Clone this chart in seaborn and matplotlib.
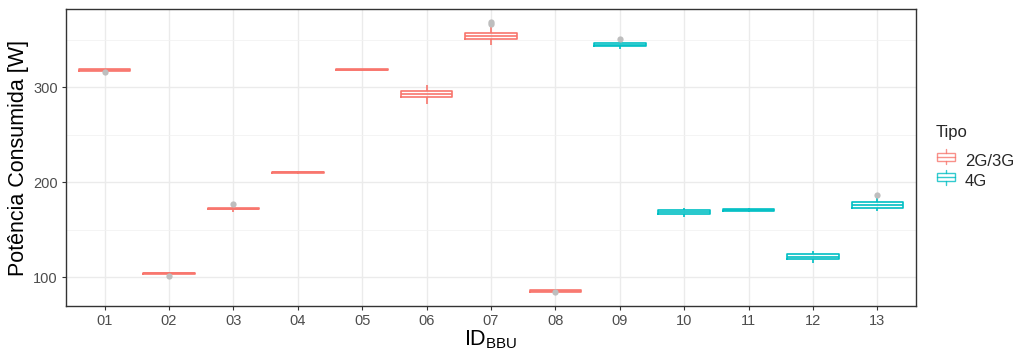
import pandas as pd
import seaborn as sb
import matplotlib.pyplot as plt
from matplotlib.legend_handler import HandlerBase
from matplotlib.patches import Rectangle
from matplotlib.lines import Line2D

# ##############################################################################
# data (box stats per BBU)
bbu_ids = ['01', '02', '03', '04', '05', '06', '07', '08', '09', '10', '11', '12', '13']
tipos = ['2G/3G'] * 8 + ['4G'] * 5

box_lo  = [317.0, 103.2, 168.6, 209.0, 317.6, 282.8, 345.0, 84.6, 340.0, 163.5, 168.1, 114.7, 169.2]
box_q1  = [317.6, 103.6, 171.2, 209.8, 318.0, 289.5, 350.9, 84.7, 343.5, 166.7, 169.9, 119.5, 173.3]
box_med = [318.2, 104.2, 171.9, 210.5, 318.6, 293.0, 354.0, 85.3, 344.9, 168.4, 170.9, 121.0, 176.0]
box_q3  = [318.8, 104.8, 172.6, 211.2, 319.2, 296.5, 357.2, 85.9, 346.3, 170.2, 171.9, 124.0, 178.6]
box_hi  = [319.2, 105.0, 174.0, 212.0, 319.6, 302.4, 363.5, 86.0, 349.2, 172.6, 173.3, 127.4, 183.0]

outlier_bbu = ['01', '02', '03', '07', '07', '08', '09', '13']
outlier_val = [316.0, 101.4, 177.5, 366.3, 368.7, 83.9, 351.3, 186.6]

tipo_levels = ['2G/3G', '4G']
palette = {'2G/3G': '#F8766D', '4G': '#00BFC4'}

# ------------------------------------------------------------------------------
# samples whose quartiles / extremes reproduce the box stats
rows = []
for i, b in enumerate(bbu_ids):
  for v in [box_lo[i], box_q1[i], box_q1[i], box_med[i], box_q3[i], box_q3[i], box_hi[i]]:
    rows.append({'BBU': b, 'Tipo': tipos[i], 'Potencia': v})
df = pd.DataFrame(rows)
df_out = pd.DataFrame({'BBU': outlier_bbu, 'Potencia': outlier_val})


# ggplot-like legend key: box with whisker and median
class BoxKey(HandlerBase):
  def __init__(self, color):
    super().__init__()
    self.color = color

  def create_artists(self, legend, orig_handle, xd, yd, w, h, fontsize, trans):
    c = self.color
    cx, cy = xd + w / 2, yd + h / 2
    by0, by1 = cy - h * 0.27, cy + h * 0.27
    kw = dict(color=c, lw=1.0, alpha=0.8, transform=trans)
    box = Rectangle((xd, by0), w, by1 - by0, facecolor='white', edgecolor=c,
                    linewidth=1.0, alpha=0.8, transform=trans)
    med = Line2D([xd, xd + w], [cy, cy], **kw)
    wlo = Line2D([cx, cx], [cy - h * 0.5, by0], **kw)
    whi = Line2D([cx, cx], [by1, cy + h * 0.5], **kw)
    return [box, med, wlo, whi]


# ------------------------------------------------------------------------------
sb.set_style('white')
plt.rcParams['font.family'] = ['Liberation Sans', 'DejaVu Sans']
plt.rcParams['mathtext.fontset'] = 'custom'
plt.rcParams['mathtext.rm'] = 'Liberation Sans'

fig = plt.figure(figsize=(10.21, 3.54), dpi=100)
ax = fig.add_axes([66/1021, 1-306/354, 850/1021, 297/354])

ax.set_axisbelow(True)
g = sb.boxplot(data=df, x='BBU', y='Potencia', hue='Tipo', order=bbu_ids,
               hue_order=tipo_levels, palette=palette, fill=False,
               dodge=False, width=0.8, whis=(0, 100), showfliers=False,
               showcaps=False, linewidth=1.2, legend=False, ax=ax)
sb.stripplot(data=df_out, x='BBU', y='Potencia', order=bbu_ids, jitter=False,
             color='#BEBEBE', size=4.5, linewidth=0, zorder=5, ax=ax)

## limits / ticks
ax.set_xlim(-0.6, 12.6)
ax.set_ylim(69.5, 382.5)
ax.set_yticks([100, 200, 300])
ax.set_yticks([150, 250, 350], minor=True)
ax.grid(True, which='major', color='#EBEBEB', linewidth=1.0)
ax.grid(True, which='minor', axis='y', color='#F2F2F2', linewidth=0.6)
ax.tick_params(axis='both', which='major', labelsize=10.5, labelcolor='#4D4D4D',
               color='#333333', length=3, width=0.8, left=True, bottom=True, pad=3)
ax.tick_params(axis='y', which='minor', length=0)
for s in ax.spines.values():
  s.set_color('#333333')
  s.set_linewidth(1.0)

### labels
ax.set_ylabel('Potência Consumida [W]', fontsize=15.5, color='black', labelpad=3)
ax.set_xlabel(r'ID$_{\mathrm{BBU}}$', fontsize=15.5, color='black', labelpad=0)

### legend (title as separate text for ggplot-like spacing)
fig.text(936/1021, 1-133/354, 'Tipo', fontsize=12, ha='left', va='center')
handles = [Rectangle((0, 0), 1, 1) for t in tipo_levels]
leg = ax.legend(handles, tipo_levels, loc='upper left',
                bbox_to_anchor=(1.0165, 0.539), frameon=False,
                fontsize=12, handlelength=1.1, handleheight=1.0,
                labelspacing=0.27, handletextpad=0.6, borderaxespad=0,
                handler_map={handles[i]: BoxKey(palette[t]) for i, t in enumerate(tipo_levels)})

fig.savefig('out.png', dpi=100)
plt.close('all')
